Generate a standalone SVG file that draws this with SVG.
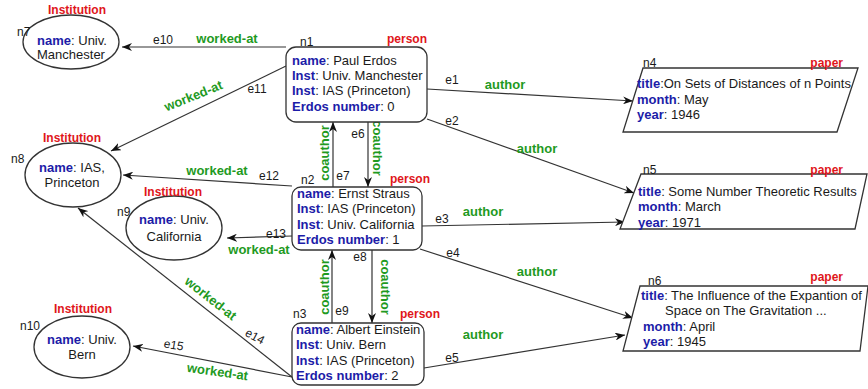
<svg xmlns="http://www.w3.org/2000/svg" width="868" height="389" viewBox="0 0 868 389">
  <style>
    text { font-family: "Liberation Sans", Arial, sans-serif; font-size: 12px; fill: #1a1a1a; }
    .v { font-size: 13px; }
    .k { fill: #1c1ca8; font-weight: bold; }
    .type { fill: #e0161b; font-weight: bold; }
    .rel { fill: #1f9a1f; font-weight: bold; font-size: 13px; }
    .mid { text-anchor: middle; }
    .box { fill: #ffffff; stroke: #333333; stroke-width: 1.3; }
    .edge { fill: none; stroke: #333333; stroke-width: 1.2; marker-end: url(#arrow); }
  </style>
  <defs>
    <marker id="arrow" viewBox="0 0 10 8" refX="10" refY="4" markerWidth="10" markerHeight="8" markerUnits="userSpaceOnUse" orient="auto">
      <path d="M0,0 L10,4 L0,8 L3,4 Z" fill="#111111"/>
    </marker>
  </defs>

  <rect width="868" height="389" fill="#ffffff"/>

  <!-- connectors -->
  <g id="edges">
    <line class="edge" x1="286" y1="47" x2="122" y2="47"/>
    <line class="edge" x1="286" y1="66" x2="111" y2="151"/>
    <line class="edge" x1="427" y1="89" x2="633" y2="101"/>
    <line class="edge" x1="427" y1="119" x2="634" y2="193"/>
    <line class="edge" x1="368" y1="122" x2="368" y2="187"/>
    <line class="edge" x1="333" y1="187" x2="333" y2="122"/>
    <line class="edge" x1="292" y1="186" x2="123" y2="175"/>
    <line class="edge" x1="292" y1="236" x2="227" y2="238"/>
    <line class="edge" x1="422" y1="226" x2="625" y2="222"/>
    <line class="edge" x1="420" y1="249" x2="633" y2="318"/>
    <line class="edge" x1="372" y1="250" x2="372" y2="323"/>
    <line class="edge" x1="332" y1="323" x2="332" y2="250"/>
    <line class="edge" x1="424" y1="368" x2="625" y2="335"/>
    <line class="edge" x1="292" y1="377" x2="78" y2="208"/>
    <line class="edge" x1="292" y1="377" x2="133" y2="346"/>

    <text x="163" y="44" class="mid">e10</text>
    <text x="227" y="43" class="mid rel">worked-at</text>
    <text x="257" y="93" class="mid">e11</text>
    <text class="mid rel" transform="translate(195,100) rotate(-22)">worked-at</text>
    <text x="452" y="84" class="mid">e1</text>
    <text x="505" y="89" class="mid rel">author</text>
    <text x="452" y="125" class="mid">e2</text>
    <text x="537" y="153" class="mid rel">author</text>
    <text x="358" y="138" class="mid">e6</text>
    <text x="343" y="180" class="mid">e7</text>
    <text class="mid rel" transform="translate(329,153) rotate(-90)">coauthor</text>
    <text class="mid rel" transform="translate(373,148) rotate(90)">coauthor</text>
    <text x="217" y="175" class="mid rel">worked-at</text>
    <text x="269" y="180" class="mid">e12</text>
    <text x="276" y="238" class="mid">e13</text>
    <text x="259" y="254" class="mid rel">worked-at</text>
    <text x="442" y="223" class="mid">e3</text>
    <text x="483" y="216" class="mid rel">author</text>
    <text x="453" y="257" class="mid">e4</text>
    <text x="537" y="276" class="mid rel">author</text>
    <text x="360" y="261" class="mid">e8</text>
    <text x="342" y="315" class="mid">e9</text>
    <text class="mid rel" transform="translate(329,287) rotate(-90)">coauthor</text>
    <text class="mid rel" transform="translate(381,287) rotate(90)">coauthor</text>
    <text x="452" y="362" class="mid">e5</text>
    <text x="483" y="339" class="mid rel">author</text>
    <text class="mid rel" transform="translate(208,302) rotate(38)">worked-at</text>
    <text class="mid" transform="translate(253,340) rotate(28)">e14</text>
    <text class="mid" transform="translate(173,349) rotate(10)">e15</text>
    <text class="mid rel" transform="translate(217,376) rotate(8)">worked-at</text>
  </g>

  <!-- institutions -->
  <g id="n7">
    <ellipse class="box" cx="71" cy="42" rx="48" ry="27"/>
    <text x="77" y="14" class="mid type">Institution</text>
    <text x="17" y="36">n7</text>
    <text x="72" y="45" class="mid v"><tspan class="k">name</tspan>: Univ.</text>
    <text x="71" y="59" class="mid v">Manchester</text>
  </g>
  <g id="n8">
    <ellipse class="box" cx="73" cy="175" rx="48" ry="32"/>
    <text x="72" y="142" class="mid type">Institution</text>
    <text x="11" y="163">n8</text>
    <text x="72" y="172" class="mid v"><tspan class="k">name</tspan>: IAS,</text>
    <text x="72" y="187" class="mid v">Princeton</text>
  </g>
  <g id="n9">
    <ellipse class="box" cx="174" cy="228" rx="48" ry="32"/>
    <text x="173" y="196" class="mid type">Institution</text>
    <text x="117" y="216">n9</text>
    <text x="174" y="224" class="mid v"><tspan class="k">name</tspan>: Univ.</text>
    <text x="174" y="241" class="mid v">California</text>
  </g>
  <g id="n10">
    <ellipse class="box" cx="82" cy="347" rx="48" ry="31"/>
    <text x="83" y="313" class="mid type">Institution</text>
    <text x="20" y="330">n10</text>
    <text x="82" y="344" class="mid v"><tspan class="k">name</tspan>: Univ.</text>
    <text x="82" y="359" class="mid v">Bern</text>
  </g>

  <!-- persons -->
  <g id="n1">
    <rect class="box" x="286" y="47" width="141" height="75" rx="10"/>
    <text x="300" y="46">n1</text>
    <text x="407" y="43" class="mid type">person</text>
    <text x="292" y="65" class="v"><tspan class="k">name</tspan>: Paul Erdos</text>
    <text x="292" y="80" class="v"><tspan class="k">Inst</tspan>: Univ. Manchester</text>
    <text x="292" y="95" class="v"><tspan class="k">Inst</tspan>: IAS (Princeton)</text>
    <text x="292" y="111" class="v"><tspan class="k">Erdos number</tspan>: 0</text>
  </g>
  <g id="n2">
    <rect class="box" x="292" y="187" width="130" height="63" rx="9"/>
    <text x="301" y="184">n2</text>
    <text x="410" y="183" class="mid type">person</text>
    <text x="297" y="198" class="v"><tspan class="k">name</tspan>: Ernst Straus</text>
    <text x="297" y="213" class="v"><tspan class="k">Inst</tspan>: IAS (Princeton)</text>
    <text x="297" y="229" class="v"><tspan class="k">Inst</tspan>: Univ. California</text>
    <text x="297" y="244" class="v"><tspan class="k">Erdos number</tspan>: 1</text>
  </g>
  <g id="n3">
    <rect class="box" x="292" y="323" width="132" height="62" rx="9"/>
    <text x="293" y="318">n3</text>
    <text x="420" y="318" class="mid type">person</text>
    <text x="296" y="334" class="v"><tspan class="k">name</tspan>: Albert Einstein</text>
    <text x="296" y="349" class="v"><tspan class="k">Inst</tspan>: Univ. Bern</text>
    <text x="296" y="365" class="v"><tspan class="k">Inst</tspan>: IAS (Princeton)</text>
    <text x="296" y="380" class="v"><tspan class="k">Erdos number</tspan>: 2</text>
  </g>

  <!-- papers -->
  <g id="n4">
    <polygon class="box" points="643,68 858,68 837,132 623,132"/>
    <text x="643" y="67">n4</text>
    <text x="843" y="67" class="type" text-anchor="end">paper</text>
    <text x="637" y="88" class="v"><tspan class="k">title</tspan>:On Sets of Distances of n Points</text>
    <text x="637" y="104" class="v"><tspan class="k">month</tspan>: May</text>
    <text x="637" y="119" class="v"><tspan class="k">year</tspan>: 1946</text>
  </g>
  <g id="n5">
    <polygon class="box" points="641,174 867,174 855,229 620,229"/>
    <text x="643" y="174">n5</text>
    <text x="843" y="174" class="type" text-anchor="end">paper</text>
    <text x="638" y="196" class="v"><tspan class="k">title</tspan>: Some Number Theoretic Results</text>
    <text x="638" y="211" class="v"><tspan class="k">month</tspan>: March</text>
    <text x="638" y="227" class="v"><tspan class="k">year</tspan>: 1971</text>
  </g>
  <g id="n6">
    <polygon class="box" points="640,286 868,286 860,351 623,351"/>
    <text x="648" y="285">n6</text>
    <text x="843" y="281" class="type" text-anchor="end">paper</text>
    <text x="641" y="300" class="v"><tspan class="k">title</tspan>: The Influence of the Expantion of</text>
    <text x="665" y="315" class="v">Space on The Gravitation ...</text>
    <text x="643" y="331" class="v"><tspan class="k">month</tspan>: April</text>
    <text x="643" y="346" class="v"><tspan class="k">year</tspan>: 1945</text>
  </g>
</svg>
